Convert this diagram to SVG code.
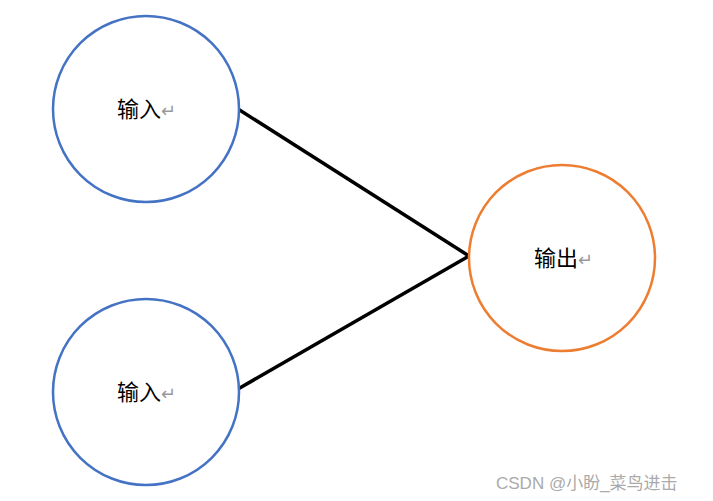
<svg xmlns="http://www.w3.org/2000/svg" width="713" height="501" viewBox="0 0 713 501">
<style>
.t{font-family:"Liberation Sans","Noto Sans CJK SC",sans-serif;font-size:22px;fill:#000}
.r{fill:#999;font-size:18px}
.c{fill:#fff;stroke-width:2.5}
</style>
<rect width="713" height="501" fill="#fff"/>
<g id="connectors" stroke="#000" stroke-width="3.5" fill="none">
<line x1="238" y1="109" x2="469" y2="256"/>
<line x1="238" y1="389" x2="469" y2="256"/>
</g>
<g id="in1"><circle class="c" cx="146" cy="109" r="93" stroke="#4472C4"/><text class="t" x="117" y="117">输入<tspan class="r">↵</tspan></text></g>
<g id="in2"><circle class="c" cx="146" cy="392" r="93" stroke="#4472C4"/><text class="t" x="117" y="400">输入<tspan class="r">↵</tspan></text></g>
<g id="out"><circle class="c" cx="562" cy="258" r="93" stroke="#ED7D31"/><text class="t" x="534" y="266">输出<tspan class="r">↵</tspan></text></g>
<text x="496" y="489" font-family="Liberation Sans,Noto Sans CJK SC,sans-serif" font-size="17" fill="#aaa">CSDN @小盼_菜鸟进击</text>
</svg>
